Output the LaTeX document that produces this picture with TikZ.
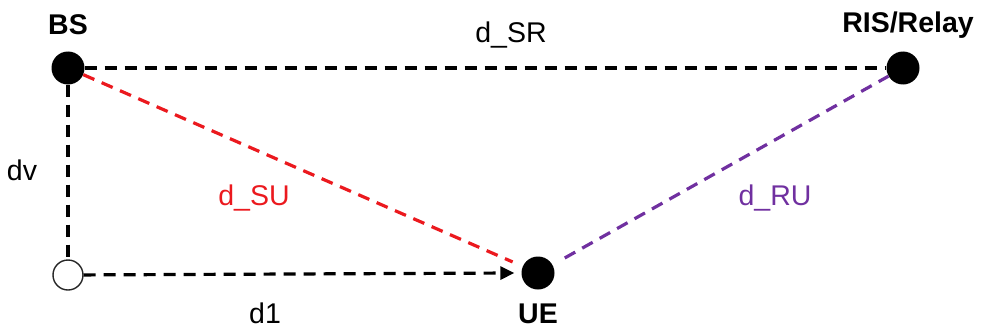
\documentclass[tikz,border=0pt]{standalone}
\usepackage{fontspec}
\setmainfont{Liberation Sans}
\usetikzlibrary{arrows.meta}
\definecolor{sured}{RGB}{235,25,30}
\definecolor{rupurple}{RGB}{112,48,160}
\begin{document}
\begin{tikzpicture}[x=1pt,y=-1pt,
  dot/.style={circle,fill=black,minimum size=33pt,inner sep=0pt},
  hollow/.style={circle,draw=black!85,line width=1.4pt,fill=white,minimum size=30pt,inner sep=0pt},
  link/.style={line width=3.2pt,dash pattern=on 12pt off 8pt},
  lbl/.style={font=\fontsize{28.5}{31}\selectfont,inner sep=0pt},
  blbl/.style={font=\fontsize{28.5}{31}\selectfont\bfseries,inner sep=0pt}]
\useasboundingbox (0,0) rectangle (981,329);
\node[dot] (bs) at (68,68) {};
\node[dot] (ris) at (903,68) {};
\node[dot] (ue) at (538,273) {};
\node[hollow] (o) at (68,275) {};
\node[blbl] (bsl) at (68,25) {BS};
\node[blbl] (risl) at (908,25) {RIS/Relay};
\node[blbl] (uel) at (538,314) {UE};
\node[lbl] (dsr) at (511,35) {d\_SR};
\node[lbl] (dv) at (22,170) {dv};
\node[lbl,text=sured] (dsu) at (254,198) {d\_SU};
\node[lbl,text=rupurple] (dru) at (775,198) {d\_RU};
\node[lbl] (d1) at (265,313) {d1};
\draw[link] (bs) -- (ris);
\draw[link] (bs) -- (o);
\draw[link,-{Triangle[length=14pt,width=13pt]}] (o) -- ([xshift=-7pt]ue.west);
\draw[link,sured,shorten >=11pt] (bs) -- (ue);
\draw[link,rupurple,shorten <=14pt] (ue) -- (ris);
\end{tikzpicture}
\end{document}
